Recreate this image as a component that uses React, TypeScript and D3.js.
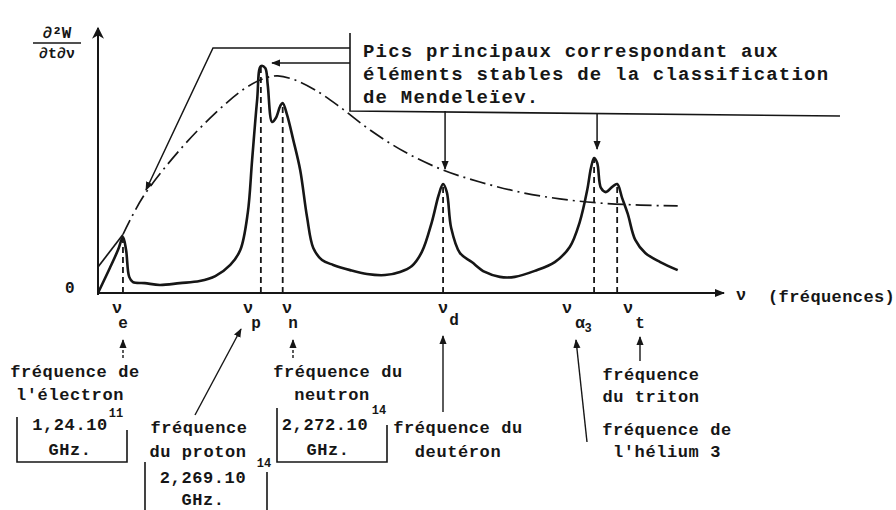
import React from "react";
import * as d3 from "d3";

// Spectrum (arbitrary units: frequency 0..100, intensity 0..100)
const curveNu = [0, 1.9, 3.2, 4.0, 4.5, 5.0, 5.6, 7.5, 9.9, 13.1, 16.3, 18.8, 21.2, 22.8, 24.0, 24.7, 25.5, 26.1, 26.8, 27.2, 27.9, 28.5, 29.2, 29.6, 30.3, 31.3, 32.4, 33.5, 34.5, 35.9, 37.7, 40.4, 43.1, 46.0, 48.4, 50.3, 51.9, 53.5, 54.6, 55.3, 55.9, 56.6, 58.0, 59.9, 62.0, 64.4, 66.8, 70.0, 73.2, 75.6, 77.2, 78.4, 79.0, 79.5, 80.0, 80.6, 81.4, 82.4, 83.2, 84.0, 84.9, 86.1, 87.7, 90.1, 92.9];
const curveIntensity = [0, 9.6, 16.5, 21.5, 16.5, 6.2, 4.2, 3.8, 3.1, 3.8, 4.6, 6.5, 10.8, 16.5, 30.8, 51.2, 74.2, 87.3, 86.5, 80, 65.8, 67.3, 71.9, 73.1, 68.5, 58.8, 47.3, 29.2, 17.3, 12.7, 10.8, 8.8, 7.3, 6.9, 8.1, 10.4, 15.8, 27.3, 37.7, 41.9, 38.8, 25, 15.4, 11.9, 8.1, 6.2, 6.2, 8.5, 11.9, 17.7, 27.3, 39.6, 48.1, 51.9, 50, 40.4, 38.8, 40.8, 41.9, 36.5, 30.4, 20.4, 15.4, 11.9, 8.8];

// Dash-dot envelope
const envelopeNu = [0, 4.0, 7.2, 13.1, 18.8, 23.6, 26.8, 28.8, 31.6, 34.8, 38.8, 43.6, 49.2, 55.3, 61.2, 67.6, 74.0, 80.4, 86.9, 92.9];
const envelopeLevel = [10, 22.5, 36.9, 55, 69.2, 78.8, 82.7, 83.5, 81.9, 78.1, 71.5, 62.7, 54.2, 47.3, 42.7, 38.8, 36.2, 34.6, 33.8, 33.5];

// Peaks
const peakNames = ["e", "p", "n", "d", "α3", "t"];
const peakNu = [4.0, 26.1, 29.6, 55.3, 79.5, 83.2];
const peakHeight = [21.5, 87.3, 73.1, 41.9, 51.9, 41.9];

const calloutLines = [
  "Pics principaux correspondant aux",
  "éléments stables de la classification",
  "de Mendeleïev.",
];

const W = 896;
const H = 510;
const INK = "#161616";
const MONO = "'Liberation Mono', 'DejaVu Sans Mono', monospace";

const x = d3.scaleLinear().domain([0, 100]).range([98, 722]);
const y = d3.scaleLinear().domain([0, 100]).range([293, 33]);

// label layout: [nu center x, sub center x, sub baseline]
const labelLayout: Record<string, { nx: number; sx: number; sy: number }> = {
  e: { nx: 117, sx: 123, sy: 328 },
  p: { nx: 248, sx: 256, sy: 328 },
  n: { nx: 287, sx: 293, sy: 328 },
  d: { nx: 443, sx: 454, sy: 325 },
  "α3": { nx: 567, sx: 580, sy: 328 },
  t: { nx: 628, sx: 640, sy: 328 },
};

function T(props: any) {
  const { children, size = 17, ls = 0.6, anchor = "middle", ...rest } = props;
  return (
    <text
      fontFamily={MONO}
      fontSize={size}
      letterSpacing={ls}
      textAnchor={anchor}
      fill={INK}
      fontWeight="bold"
      {...rest}
    >
      {children}
    </text>
  );
}

export default function App() {
  const line = d3
    .line<number>()
    .x((_, i) => x(curveNu[i]))
    .y((_, i) => y(curveIntensity[i]))
    .curve(d3.curveCatmullRom.alpha(0.5));
  const envIdx = envelopeNu.map((_, i) => i);
  const env = d3
    .line<number>()
    .x((i) => x(envelopeNu[i]))
    .y((i) => y(envelopeLevel[i]))
    .curve(d3.curveCatmullRom.alpha(0.5));

  return (
    <svg
      width={W}
      height={H}
      style={{ position: "absolute", left: 0, top: 0, background: "#fff" }}
    >
      <defs>
        <marker id="ah" viewBox="0 0 10 10" refX="9" refY="5" markerWidth="9" markerHeight="9" markerUnits="userSpaceOnUse" orient="auto">
          <path d="M0,1 L10,5 L0,9 Z" fill={INK} />
        </marker>
        <marker id="axh" viewBox="0 0 10 10" refX="9" refY="5" markerWidth="12" markerHeight="10" markerUnits="userSpaceOnUse" orient="auto">
          <path d="M0,1 L10,5 L0,9 Z" fill={INK} />
        </marker>
        <marker id="yh" viewBox="0 0 10 10" refX="9" refY="5" markerWidth="14" markerHeight="12" markerUnits="userSpaceOnUse" orient="auto">
          <path d="M0,0 L10,5 L0,10 L3,5 Z" fill={INK} />
        </marker>
      </defs>

      {/* axes */}
      <line x1={x(0)} y1={y(0) + 2} x2={x(0)} y2={28} stroke={INK} strokeWidth={2} markerEnd="url(#yh)" />
      <line x1={x(0)} y1={y(0)} x2={724} y2={y(0)} stroke={INK} strokeWidth={2} markerEnd="url(#axh)" />
      <T x={70} y={293} size={16} anchor="middle">0</T>

      {/* y label */}
      <T x={57} y={38} size={16} ls={0}>∂²W</T>
      <line x1={33} y1={43} x2={81} y2={43} stroke={INK} strokeWidth={1.6} />
      <T x={57} y={58} size={15} ls={0}>∂t∂ν</T>

      {/* x label */}
      <T x={741} y={300} size={17} ls={0}>ν</T>
      <T x={768} y={302} anchor="start" size={17} ls={0.4}>(fréquences)</T>

      {/* dashed verticals */}
      {peakNu.map((v, i) => (
        <line key={"dv" + i} x1={x(v)} x2={x(v)} y1={y(0)} y2={y(peakHeight[i])} stroke={INK} strokeWidth={1.8} strokeDasharray="6 4" />
      ))}

      {/* envelope: first segment solid, rest dash-dot */}
      <path d={d3.line<number>().x((i) => x(envelopeNu[i])).y((i) => y(envelopeLevel[i]))([0, 1]) || ""} fill="none" stroke={INK} strokeWidth={1.7} />
      <path d={env(envIdx.slice(1)) || ""} fill="none" stroke={INK} strokeWidth={1.7} strokeDasharray="16 5 2 5" />

      {/* spectrum */}
      <path d={line(curveNu) || ""} fill="none" stroke={INK} strokeWidth={2.6} strokeLinejoin="round" />

      {/* callout */}
      <path d="M350,33 L350,111 L840,116" fill="none" stroke={INK} strokeWidth={1.6} />
      {calloutLines.map((s, i) => (
        <T key={"cl" + i} x={363} y={57 + i * 23} anchor="start" size={19} ls={1.2}>{s}</T>
      ))}
      <path d="M350,48 L213,48 L146,190" fill="none" stroke={INK} strokeWidth={1.5} markerEnd="url(#ah)" />
      <path d="M350,63 L272,63" fill="none" stroke={INK} strokeWidth={1.5} markerEnd="url(#ah)" />
      <path d={`M${x(peakNu[3]) + 2},111 L${x(peakNu[3]) + 2},169`} fill="none" stroke={INK} strokeWidth={1.5} markerEnd="url(#ah)" />
      <path d={`M${x(peakNu[4]) + 3},114 L${x(peakNu[4]) + 3},149`} fill="none" stroke={INK} strokeWidth={1.5} markerEnd="url(#ah)" />

      {/* peak labels */}
      {peakNames.map((nm) => {
        const L = labelLayout[nm];
        return (
          <g key={"lb" + nm}>
            <T x={L.nx} y={313} size={17} ls={0}>ν</T>
            {nm === "α3" ? (
              <>
                <T x={L.sx} y={L.sy} size={16} ls={0}>α</T>
                <T x={L.sx + 8} y={L.sy + 4} size={12} ls={0}>3</T>
              </>
            ) : (
              <T x={L.sx} y={L.sy} size={16} ls={0}>{nm}</T>
            )}
          </g>
        );
      })}

      {/* label arrows */}
      <path d="M123,358 L123,340" stroke={INK} strokeWidth={1.4} strokeDasharray="3 2" markerEnd="url(#ah)" />
      <path d="M293,358 L293,340" stroke={INK} strokeWidth={1.4} strokeDasharray="3 2" markerEnd="url(#ah)" />
      <path d="M195,415 L241,329" stroke={INK} strokeWidth={1.4} markerEnd="url(#ah)" />
      <path d="M443,412 L443,336" stroke={INK} strokeWidth={1.4} markerEnd="url(#ah)" />
      <path d="M587,442 L576,340" stroke={INK} strokeWidth={1.4} markerEnd="url(#ah)" />
      <path d="M640,361 L640,337" stroke={INK} strokeWidth={1.4} markerEnd="url(#ah)" />

      {/* electron */}
      <T x={75} y={377}>fréquence de</T>
      <T x={70} y={400}>l'électron</T>
      <T x={70} y={430}>1,24.10</T>
      <T x={116} y={417} size={12} ls={0}>11</T>
      <T x={70} y={455}>GHz.</T>
      <path d="M17,417 L17,462 L127,462 L127,430" fill="none" stroke={INK} strokeWidth={1.6} />

      {/* proton */}
      <T x={199} y={433}>fréquence</T>
      <T x={198} y={457}>du proton</T>
      <T x={203} y={483}>2,269.10</T>
      <T x={264} y={467} size={12} ls={0}>14</T>
      <T x={203} y={505}>GHz.</T>
      <path d="M145,462 L145,512 M267,472 L267,512" fill="none" stroke={INK} strokeWidth={1.6} />

      {/* neutron */}
      <T x={338} y={377}>fréquence du</T>
      <T x={332} y={400}>neutron</T>
      <T x={325} y={430}>2,272.10</T>
      <T x={379} y={414} size={12} ls={0}>14</T>
      <T x={328} y={455}>GHz.</T>
      <path d="M277,408 L277,462 L387,462 L387,425" fill="none" stroke={INK} strokeWidth={1.6} />

      {/* deuteron */}
      <T x={458} y={433}>fréquence du</T>
      <T x={458} y={457}>deutéron</T>

      {/* triton */}
      <T x={651} y={380}>fréquence</T>
      <T x={651} y={402}>du triton</T>

      {/* helium 3 */}
      <T x={667} y={435}>fréquence de</T>
      <T x={667} y={457}>l'hélium 3</T>
    </svg>
  );
}
